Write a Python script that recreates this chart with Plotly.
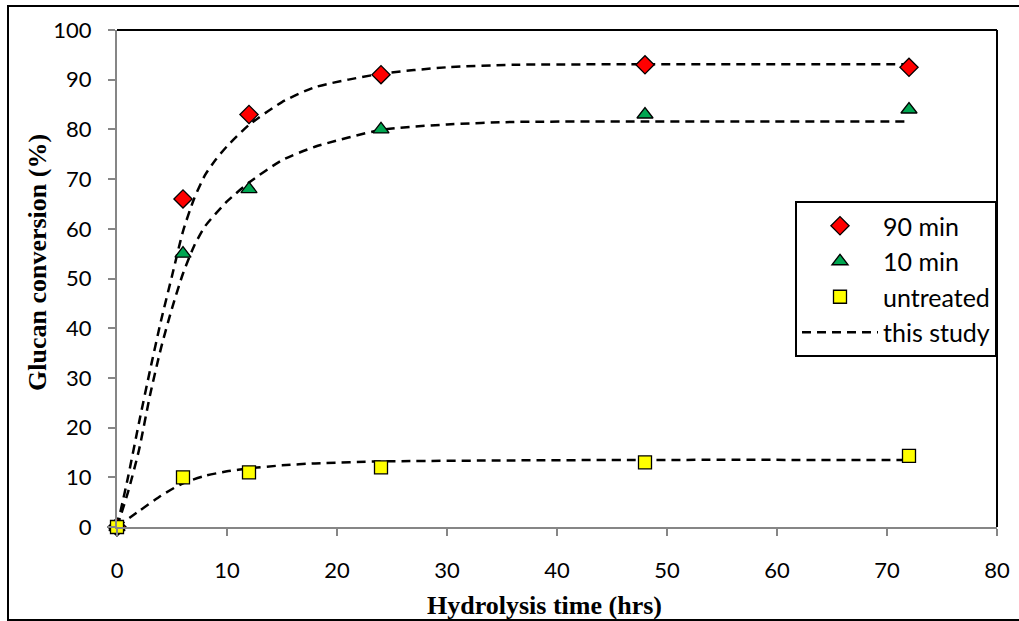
import plotly.graph_objects as go

# measured data
t_meas = [0, 6, 12, 24, 48, 72]
min90 = [0, 66, 83, 91, 93, 92.5]
min10 = [0, 55, 68, 80, 83, 84]
untreated = [0, 10, 11, 12, 13, 14.3]

# model curves ("this study")
fit90_t = [0, 1, 2, 3, 4, 5, 6, 7, 8, 9, 10, 12, 15, 18, 24, 30, 36, 48, 72]
fit90_v = [0, 10, 21, 31.5, 41.5, 50.5, 59.5, 66, 70.8, 74, 76.6, 80.9, 85.5, 88.5, 91.2, 92.5, 93.0, 93.1, 93.1]
fit10_t = [0, 1, 2, 3, 4, 5, 6, 7, 8, 10, 12, 15, 18, 24, 30, 36, 48, 72]
fit10_v = [0, 7, 15.5, 26.5, 36, 44, 51, 56.5, 60.5, 65.5, 69.3, 73.8, 76.5, 79.9, 81, 81.5, 81.6, 81.6]
fitun_t = [0, 2, 4, 6, 8, 10, 12, 15, 18, 24, 36, 48, 72]
fitun_v = [0, 3.2, 6.3, 8.8, 10.3, 11.2, 11.8, 12.4, 12.8, 13.2, 13.4, 13.5, 13.5]

x_ticks = [0, 10, 20, 30, 40, 50, 60, 70, 80]
y_ticks = [0, 10, 20, 30, 40, 50, 60, 70, 80, 90, 100]

W, H = 1019, 621
L, R, T, B = 117, 22, 30, 94
pw, ph = W - L - R, H - T - B

def px(x):
    return (x - L) / pw

def py(y):
    return (H - B - y) / ph

fig = go.Figure()
dash = "9px,6px"
for i, (tx, vy) in enumerate([(fit90_t, fit90_v), (fit10_t, fit10_v), (fitun_t, fitun_v)]):
    fig.add_trace(go.Scatter(x=tx, y=vy, mode="lines", line=dict(color="black", width=2.5, dash=dash, shape="spline", smoothing=0.6),
                             name="this study", showlegend=(i == 0), legendrank=4, legendgroup="fit", hoverinfo="skip",
                             cliponaxis=False))

mk_line = dict(color="black", width=1.3)
fig.add_trace(go.Scatter(x=t_meas, y=min90, mode="markers", name="90 min", legendrank=1, legendgroup="a", cliponaxis=False,
                         marker=dict(symbol="diamond", size=14, color="#FF0000", line=mk_line)))
fig.add_trace(go.Scatter(x=t_meas, y=min10, mode="markers", name="10 min", legendrank=2, legendgroup="b", cliponaxis=False,
                         marker=dict(symbol="triangle-up", size=14, color="#00A651", line=mk_line)))
fig.add_trace(go.Scatter(x=t_meas, y=untreated, mode="markers", name="untreated", legendrank=3, legendgroup="c", cliponaxis=False,
                         marker=dict(symbol="square", size=13, color="#FFFF00", line=mk_line)))

tickfont = dict(family="Lato, Open Sans, sans-serif", size=22, color="black")
fig.update_xaxes(range=[0, 80], tickvals=x_ticks, showgrid=False, zeroline=False, showline=True, linecolor="#868686",
                 linewidth=2, ticks="outside", ticklen=7, tickcolor="#868686", tickwidth=2, tickfont=tickfont,
                 ticklabelstandoff=16, automargin=False)
fig.update_yaxes(range=[0, 100], tickvals=y_ticks, showgrid=False, zeroline=False, showline=True, linecolor="#868686",
                 linewidth=2, ticks="outside", ticklen=7, tickcolor="#868686", tickwidth=2, tickfont=tickfont,
                 ticklabelstandoff=12, automargin=False)

shapes = [
    dict(type="line", xref="paper", yref="paper", x0=0, x1=1, y0=1, y1=1, line=dict(color="black", width=2)),
    dict(type="line", xref="paper", yref="paper", x0=1, x1=1, y0=0, y1=1, line=dict(color="black", width=2)),
    dict(type="rect", xref="paper", yref="paper", x0=px(8), x1=px(1030), y0=py(620), y1=py(6),
         line=dict(color="black", width=2), layer="below"),
]

annotations = [
    dict(text="<b>Glucan conversion (%)</b>", xref="paper", yref="paper", x=px(37), y=py(263), textangle=-90,
         xanchor="center", yanchor="middle",
         showarrow=False, font=dict(family="Liberation Serif, Times New Roman, serif", size=26, color="black")),
    dict(text="<b>Hydrolysis time (hrs)</b>", xref="paper", yref="paper", x=px(544), y=py(605),
         xanchor="center", yanchor="middle",
         showarrow=False, font=dict(family="Liberation Serif, Times New Roman, serif", size=26, color="black")),
]

fig.update_layout(
    width=W, height=H, margin=dict(l=L, r=R, t=T, b=B, autoexpand=False),
    paper_bgcolor="white", plot_bgcolor="white",
    shapes=shapes, annotations=annotations,
    legend=dict(x=1, xanchor="right", y=py(201), yanchor="top", bordercolor="black", borderwidth=2,
                bgcolor="white", font=dict(family="Lato, Open Sans, sans-serif", size=25, color="black"),
                itemwidth=76, tracegroupgap=0, traceorder="normal"),
    showlegend=True,
)

fig.write_html("out.html")
